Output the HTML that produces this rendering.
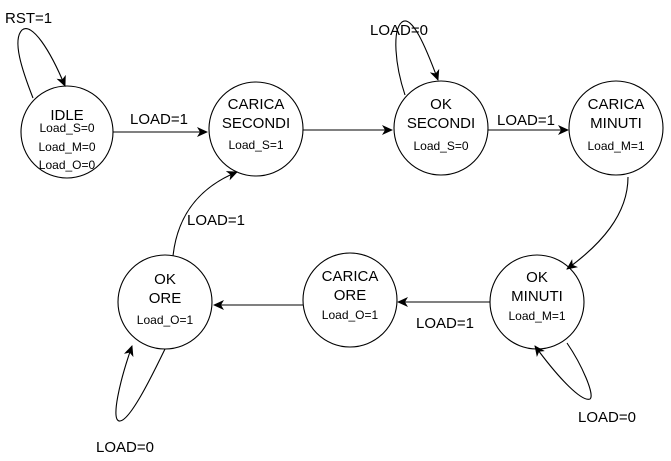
<!DOCTYPE html>
<html><head><style>
body{margin:0;background:#fff}
svg{display:block;font-family:"Liberation Sans",Arial,sans-serif}
.b{font-size:15px}.s{font-size:12px}
</style></head><body>
<svg width="671" height="461" viewBox="0 0 671 461">
<defs><marker id="a" markerWidth="12" markerHeight="10" refX="10" refY="5" orient="auto" markerUnits="userSpaceOnUse"><path d="M0,0 L11,5 L0,10 L3,5 Z" fill="#000"/></marker></defs>
<g fill="none" stroke="#000" stroke-width="1.1">
<circle cx="67" cy="132" r="46"/>
<circle cx="256" cy="129" r="47"/>
<circle cx="441" cy="128" r="47"/>
<circle cx="616" cy="128" r="47"/>
<circle cx="537" cy="302" r="47"/>
<circle cx="350" cy="300" r="47"/>
<circle cx="165" cy="302" r="47"/>
<path d="M113,132 H207" marker-end="url(#a)"/>
<path d="M303,130 H392" marker-end="url(#a)"/>
<path d="M488,130 H568" marker-end="url(#a)"/>
<path d="M490,302 H398" marker-end="url(#a)"/>
<path d="M303,305 H214" marker-end="url(#a)"/>
<path d="M628,177 C628,215 600,245 567,269" marker-end="url(#a)"/>
<path d="M173,256 C178,210 205,185 237,172" marker-end="url(#a)"/>
<path d="M33,98 C22,70 12,40 22,30 C32,22 50,50 65,86" marker-end="url(#a)"/>
<path d="M405,95 C395,65 392,30 402,22 C412,15 425,45 438,80" marker-end="url(#a)"/>
<path d="M567,343 C582,365 595,395 590,399 C582,402 560,380 535,346" marker-end="url(#a)"/>
<path d="M165,349 C150,380 130,420 120,421 C110,422 120,380 132,346" marker-end="url(#a)"/>
</g>
<g text-anchor="middle" fill="#000">
<text x="67" y="120" class="b">IDLE</text>
<text x="67" y="132" class="s">Load_S=0</text>
<text x="67" y="151" class="s">Load_M=0</text>
<text x="67" y="169" class="s">Load_O=0</text>
<text x="256" y="109" class="b">CARICA</text>
<text x="256" y="128" class="b">SECONDI</text>
<text x="256" y="149" class="s">Load_S=1</text>
<text x="441" y="109" class="b">OK</text>
<text x="441" y="128" class="b">SECONDI</text>
<text x="441" y="150" class="s">Load_S=0</text>
<text x="616" y="109" class="b">CARICA</text>
<text x="616" y="128" class="b">MINUTI</text>
<text x="616" y="150" class="s">Load_M=1</text>
<text x="537" y="282" class="b">OK</text>
<text x="537" y="301" class="b">MINUTI</text>
<text x="537" y="320" class="s">Load_M=1</text>
<text x="350" y="281" class="b">CARICA</text>
<text x="350" y="300" class="b">ORE</text>
<text x="350" y="319" class="s">Load_O=1</text>
<text x="165" y="284" class="b">OK</text>
<text x="165" y="303" class="b">ORE</text>
<text x="165" y="324" class="s">Load_O=1</text>
</g>
<g fill="#000">
<text x="5" y="23" class="b">RST=1</text>
<text x="130" y="124" class="b">LOAD=1</text>
<text x="370" y="35" class="b">LOAD=0</text>
<text x="497" y="125" class="b">LOAD=1</text>
<text x="187" y="225" class="b">LOAD=1</text>
<text x="416" y="328" class="b">LOAD=1</text>
<text x="578" y="422" class="b">LOAD=0</text>
<text x="96" y="452" class="b">LOAD=0</text>
</g>
</svg>
</body></html>
